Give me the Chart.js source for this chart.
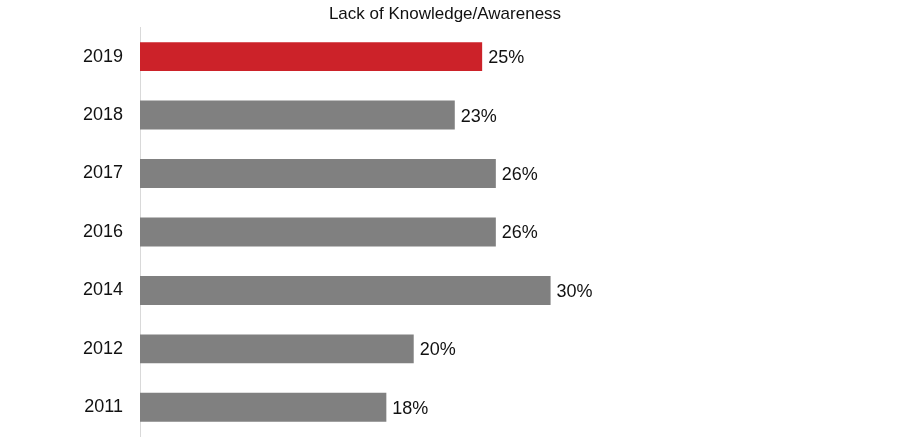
<!DOCTYPE html>
<html>
<head>
<meta charset="utf-8">
<script src="https://cdn.jsdelivr.net/npm/chart.js@4"></script>
<style>
html,body{margin:0;padding:0;background:#fff;}
#wrap{width:900px;height:437px;}
</style>
</head>
<body>
<div id="wrap"><canvas id="c" width="900" height="437"></canvas></div>
<script>
const categories = ["2019", "2018", "2017", "2016", "2014", "2012", "2011"];
const values = [25, 23, 26, 26, 30, 20, 18];
const barColors = ["#CC2229", "#808080", "#808080", "#808080", "#808080", "#808080", "#808080"];
const chartTitle = "Lack of Knowledge/Awareness";

const FONT = "'Liberation Sans', Arial, sans-serif";

const valueLabels = {
  id: 'valueLabels',
  afterDatasetsDraw(chart) {
    const ctx = chart.ctx;
    const meta = chart.getDatasetMeta(0);
    ctx.save();
    ctx.font = "18px " + FONT;
    ctx.fillStyle = "#111";
    ctx.textAlign = "left";
    ctx.textBaseline = "middle";
    meta.data.forEach((bar, i) => {
      ctx.fillText(values[i] + "%", bar.x + 6, bar.y + 1.5);
    });
    ctx.restore();
  }
};

new Chart(document.getElementById('c'), {
  type: 'bar',
  data: {
    labels: categories,
    datasets: [{
      data: values,
      backgroundColor: barColors,
      borderWidth: 0,
      categoryPercentage: 1,
      barPercentage: 0.495
    }]
  },
  options: {
    indexAxis: 'y',
    responsive: false,
    animation: false,
    devicePixelRatio: 1,
    layout: { padding: { left: 0, right: 10, top: 0, bottom: 0 } },
    plugins: {
      legend: { display: false },
      tooltip: { enabled: false },
      title: {
        display: true,
        text: chartTitle,
        color: "#111",
        font: { family: FONT, size: 17, weight: 'normal' },
        padding: { top: 4, bottom: 3 }
      }
    },
    scales: {
      x: {
        display: false,
        min: 0,
        max: 54.8
      },
      y: {
        afterFit(s) { s.width = 140; },
        grid: {
          display: true,
          drawOnChartArea: false,
          drawTicks: true,
          tickLength: 17,
          color: "rgba(0,0,0,0)"
        },
        border: { display: true, color: "#d9d9d9", width: 1 },
        ticks: {
          color: "#111",
          padding: 0,
          font: { family: FONT, size: 18, lineHeight: 0.05 }
        }
      }
    }
  },
  plugins: [valueLabels]
});
</script>
</body>
</html>
